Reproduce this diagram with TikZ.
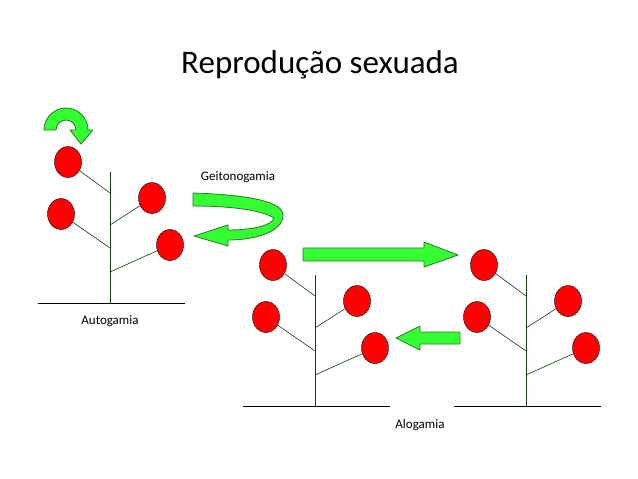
\documentclass[tikz,border=0pt]{standalone}
\usepackage{fontspec}
\setmainfont{Carlito}
\usetikzlibrary{shapes.geometric}
\definecolor{arrowgreen}{RGB}{51,255,51}
\definecolor{arrowline}{RGB}{40,120,40}
\definecolor{stemgreen}{RGB}{20,60,20}
\begin{document}
\begin{tikzpicture}[x=1pt,y=-1pt]
  \tikzstyle{flower}=[draw,fill=red,ellipse,minimum width=27pt,minimum height=31pt,inner sep=0pt]
  \tikzstyle{stem}=[draw,stemgreen,semithick]
  \tikzstyle{ground}=[draw,black,semithick]
  \tikzstyle{label}=[font=\fontsize{13}{15}\selectfont]
  \tikzstyle{blockarrow}=[draw=arrowline,fill=arrowgreen,thick,line join=round]
  \useasboundingbox (0,0) rectangle (638,479);
  \node[font=\fontsize{33}{38}\selectfont] (title) at (320,65) {Reprodução sexuada};
  % plants
  \foreach \name/\dx/\dy in {one/0/0,two/205/103,three/416/103} {
    \begin{scope}[shift={(\dx,\dy)}]
      \path[stem] (110,172) -- (110,303);
      \path[ground] (38,303) -- (185,303);
      \node[flower] (\name-a) at (68,162) {};
      \node[flower] (\name-b) at (61,214) {};
      \node[flower] (\name-c) at (152,198) {};
      \node[flower] (\name-d) at (170,245) {};
      \coordinate (\name-sa) at (110,193);
      \coordinate (\name-sb) at (110,248);
      \coordinate (\name-sc) at (110,225);
      \coordinate (\name-sd) at (110,272);
      \path[stem] (\name-a) -- (\name-sa);
      \path[stem] (\name-b) -- (\name-sb);
      \path[stem] (\name-c) -- (\name-sc);
      \path[stem] (\name-d) -- (\name-sd);
    \end{scope}
  }
  \node[label] (auto) at (110,321) {Autogamia};
  \node[label] (alo) at (420,425) {Alogamia};
  \node[label] (geito) at (238,177) {Geitonogamia};
  % arrows
  \path[blockarrow] (44,130) arc (180:360:22) -- (93,130) -- (81,144) -- (70,130)
    -- (76,130) arc (360:180:10) -- cycle;
  \path[blockarrow] (193,193) .. controls (255,195) and (283,203) .. (283,215)
    .. controls (283,232) and (255,240) .. (228,240) -- (228,246) -- (194,236)
    -- (228,225) -- (228,230) .. controls (255,230) and (272,225) .. (274,218)
    .. controls (262,210) and (230,206) .. (193,206) -- cycle;
  \path[blockarrow] (303,248) -- (424,248) -- (424,242) -- (458,255) -- (424,267)
    -- (424,261) -- (303,261) -- cycle;
  \path[blockarrow] (460,332) -- (420,332) -- (420,326) -- (396,338) -- (420,350)
    -- (420,344) -- (460,344) -- cycle;
\end{tikzpicture}
\end{document}
